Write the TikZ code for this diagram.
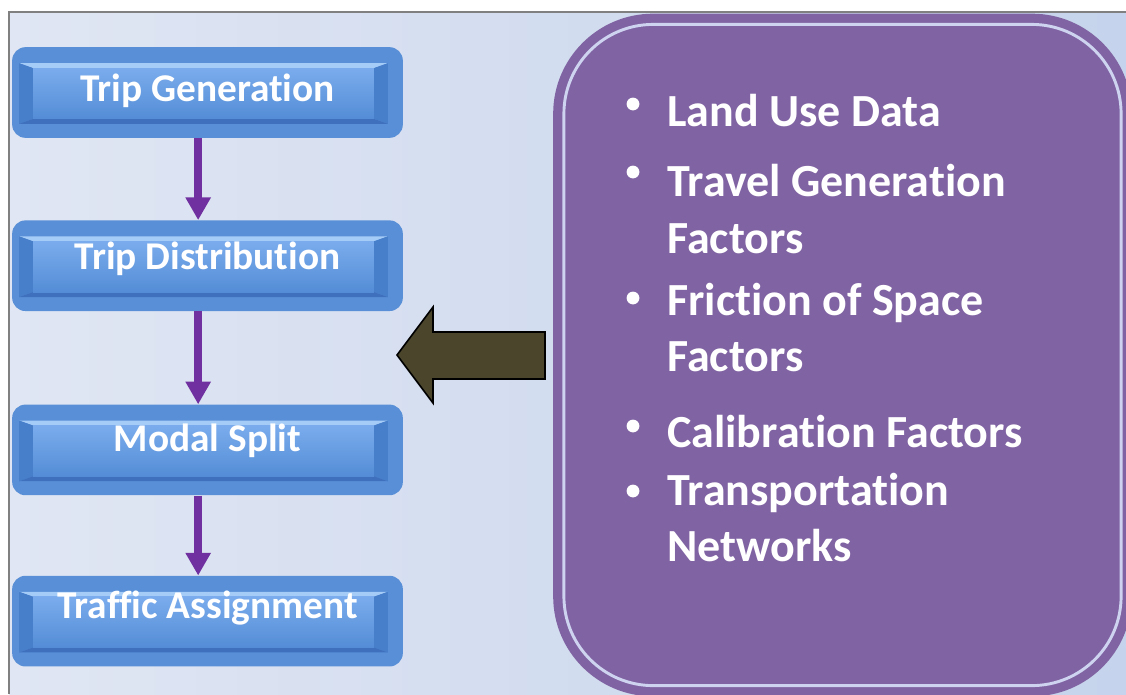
\documentclass[tikz,border=0pt]{standalone}
\usepackage{fontspec}
\setmainfont{Carlito}[Ligatures={NoCommon}]
\usepackage{tikz}
\usetikzlibrary{arrows.meta,positioning}

\definecolor{backleft}{RGB}{224,230,243}
\definecolor{backright}{RGB}{197,211,236}
\definecolor{boxblue}{RGB}{88,143,214}
\definecolor{faceTop}{RGB}{122,172,237}
\definecolor{faceBot}{RGB}{84,141,214}
\definecolor{bevelTop}{RGB}{165,204,247}
\definecolor{bevelSide}{RGB}{72,127,203}
\definecolor{bevelBot}{RGB}{62,112,190}
\definecolor{flowpurple}{RGB}{112,48,160}
\definecolor{panelpurple}{RGB}{128,99,162}
\definecolor{panelline}{RGB}{206,211,240}
\definecolor{olive}{RGB}{74,69,43}

\begin{document}
\begin{tikzpicture}[x=0.75pt,y=-0.75pt,>=Triangle,
 stage/.style={fill=boxblue,rounded corners=10pt,minimum width=293pt,minimum height=68pt,
  inner sep=0pt,text=white,font=\bfseries\fontsize{29.5}{34}\selectfont,
  text height=24pt,text depth=18pt,
  path picture={
   \coordinate (a) at ([shift={(7,16)}]path picture bounding box.north west);
   \coordinate (b) at ([shift={(-15,-14)}]path picture bounding box.south east);
   \coordinate (c) at ([shift={(21,21)}]path picture bounding box.north west);
   \coordinate (d) at ([shift={(-29,-19)}]path picture bounding box.south east);
   \fill[bevelTop,sharp corners] (a) -- (a -| b) -- (c -| d) -- (c) -- cycle;
   \fill[bevelSide,sharp corners] (a) -- (c) -- (c |- d) -- (a |- b) -- cycle;
   \fill[bevelSide,sharp corners] (a -| b) -- (c -| d) -- (d) -- (b) -- cycle;
   \fill[bevelBot,sharp corners] (a |- b) -- (c |- d) -- (d) -- (b) -- cycle;
   \shade[top color=faceTop,bottom color=faceBot,sharp corners] (c) rectangle (d);
  }},
 flow/.style={->,draw=flowpurple,line width=6pt,
  arrows={-Triangle[width=18pt,length=17pt,flowpurple]}},
 item/.style={anchor=base west,inner sep=0pt,text=white,
  font=\bfseries\fontsize{34.5}{40}\selectfont}]

\useasboundingbox (0,0) rectangle (1126,694);
\clip (0,0) rectangle (1126,694);

% slide background and frame
\fill[white] (0,0) rectangle (1126,694);
\shade[left color=backleft,right color=backright] (9,12) rectangle (1126,694);
\draw[gray,line width=1pt] (9,694) -- (9,12) -- (1126,12);

% the four stages
\node[stage,text depth=11pt] (gen) at (207.5,92.5) {Trip Generation};
\node[stage,below=61.5pt of gen] (dist) {Trip Distribution};
\node[stage,below=69.75pt of dist,text depth=22pt] (modal) {Modal Split};
\node[stage,below=60pt of modal,text depth=28pt] (assign) {Traffic Assignment};

\draw[flow] ([xshift=-7pt]gen.south) -- ([xshift=-7pt]dist.north);
\draw[flow] ([xshift=-7pt]dist.south) -- ([xshift=-7pt]modal.north);
\draw[flow] ([xshift=-7pt]modal.south) -- ([xshift=-7pt]assign.north);

% input panel
\node[fill=panelpurple,rounded corners=75pt,minimum width=434pt,minimum height=512pt,
 inner sep=0pt] (inputs) at (842.5,355) {};
\draw[panelline,line width=2.2pt,rounded corners=67pt]
 ([shift={(11,11)}]inputs.north west) rectangle ([shift={(-11,-11)}]inputs.south east);

% block arrow towards the stages
\draw[fill=olive,draw=black,line width=1.2pt,line join=miter]
 (397,355) -- (433,307) -- (433,332) -- (545,332) -- (545,379) -- (433,379) -- (433,403) -- cycle;

% bullet list
\node[item] (land) at (667,126) {Land Use Data};
\node[item] (travel) at (667,196) {Travel Generation};
\node[item] (travelb) at (667,253) {Factors};
\node[item] (friction) at (667,315) {Friction of Space};
\node[item] (frictionb) at (667,371) {Factors};
\node[item] (calib) at (667,447) {Calibration Factors};
\node[item] (transport) at (667,505) {Transportation};
\node[item] (transportb) at (667,561) {Networks};

\foreach \by in {104,172,298,426,491}
 \fill[white] (633,\by) circle (4.8pt);

\end{tikzpicture}
\end{document}
